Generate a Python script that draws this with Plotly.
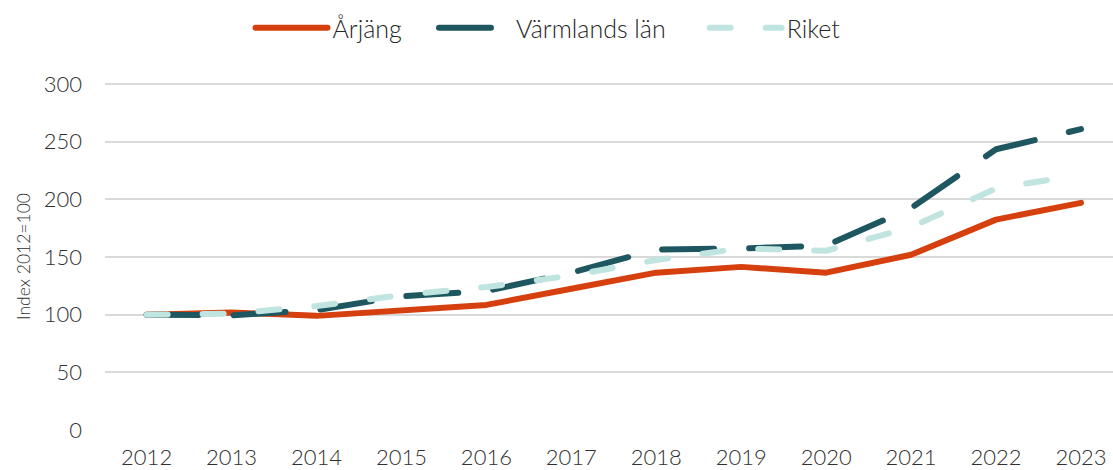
import plotly.graph_objects as go

years = ["2012", "2013", "2014", "2015", "2016", "2017", "2018", "2019", "2020", "2021", "2022", "2023"]
arjang = [100, 102, 99, 103.5, 108.5, 122.5, 136.5, 141.5, 136.5, 152, 182.5, 197]
varmland = [100, 99.5, 104, 116, 120.5, 136.5, 156.5, 157.5, 160, 192.5, 243.5, 261]
riket = [100, 101, 107.5, 117, 124, 134, 147.5, 157.5, 155.5, 176, 209.5, 221.5]

series_names = ["Årjäng", "Värmlands län", "Riket"]
legend_pad = ["\u00a0" * 4, "\u00a0" * 5, ""]
colors = ["#D6400E", "#1F5760", "#C0E4DF"]

FONT = "Lato"
TXT = "#303030"

fig = go.Figure()
fig.add_trace(go.Scatter(x=years, y=arjang, name=series_names[0] + legend_pad[0], mode="lines",
                         line=dict(color=colors[0], width=6)))
fig.add_trace(go.Scatter(x=years, y=varmland, name=series_names[1] + legend_pad[1], mode="lines",
                         line=dict(color=colors[1], width=6, dash="52px,35px")))
fig.add_trace(go.Scatter(x=years, y=riket, name=series_names[2] + legend_pad[2], mode="lines",
                         line=dict(color=colors[2], width=6, dash="21px,35px")))

fig.update_layout(
    width=1113, height=470,
    margin=dict(l=105, r=0, t=83, b=40),
    plot_bgcolor="white", paper_bgcolor="white",
    font=dict(family=FONT, size=22, color=TXT, weight=300),
    showlegend=True,
    legend=dict(orientation="h", x=(548 - 105) / 1008, xanchor="center", y=1 - 28 / 470,
                yref="container", yanchor="middle",
                font=dict(size=25, color="#262626", weight=300),
                itemwidth=72, traceorder="normal"),
    xaxis=dict(type="category", range=[-0.49, 11.377], showgrid=False, zeroline=False,
               showline=False, ticks="", ticklabelstandoff=12, automargin=False,
               tickfont=dict(size=22, color=TXT, weight=300)),
    yaxis=dict(range=[0, 301], tickvals=[0, 50, 100, 150, 200, 250, 300],
               showgrid=True, gridcolor="#D9D9D9", gridwidth=1.5, zeroline=False,
               showline=False, ticks="", ticklabelstandoff=22, automargin=False,
               tickfont=dict(size=22, color=TXT, weight=300),
               title=dict(text="Index 2012=100", standoff=8,
                          font=dict(size=17.5, color=TXT, weight=300))),
)

post = """
document.body.style.margin = '0px';
document.querySelectorAll('path.js-line').forEach(function(p){ p.style.strokeLinecap = 'round'; p.style.strokeLinejoin = 'round'; });
"""

fig.write_html("out.html", post_script=post, config={"displayModeBar": False})
